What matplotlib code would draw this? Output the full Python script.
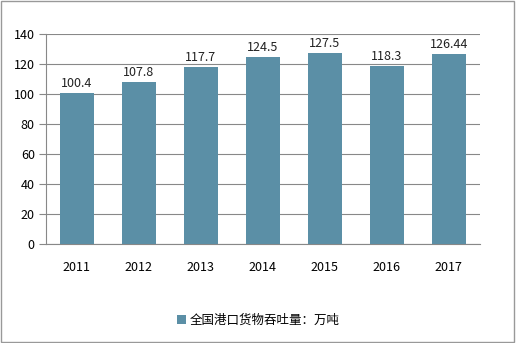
import matplotlib.pyplot as plt
from matplotlib.patches import Rectangle

plt.rcParams['font.family'] = ['Noto Sans CJK SC', 'DejaVu Sans']

years = ['2011', '2012', '2013', '2014', '2015', '2016', '2017']
values = [100.4, 107.8, 117.7, 124.5, 127.5, 118.3, 126.44]
labels = ['100.4', '107.8', '117.7', '124.5', '127.5', '118.3', '126.44']
series_name = '全国港口货物吞吐量：万吨'
bar_color = '#5b8fa6'

fig = plt.figure(figsize=(5.16, 3.43), dpi=100)
ax = fig.add_axes([0.089, 0.289, 0.841, 0.612])

x = range(len(years))
bars = ax.bar(x, values, width=0.54, color=bar_color, zorder=3, label=series_name)
for xi, v, lab in zip(x, values, labels):
    ax.text(xi, v + 2, lab, ha='center', va='bottom', fontsize=9, color='#222222')

ax.set_xlim(-0.5, len(years) - 0.5)
ax.set_ylim(0, 140)
ax.set_yticks(range(0, 141, 20))
ax.set_xticks(list(x))
ax.set_xticklabels(years)
ax.tick_params(axis='x', length=0, pad=12, labelsize=9)
ax.tick_params(axis='y', length=5, color='#888888', labelsize=9, pad=3)
ax.yaxis.grid(True, color='#888888', linewidth=0.8, zorder=0)

for side in ['top', 'right']:
    ax.spines[side].set_visible(False)
ax.spines['left'].set_color('#888888')
ax.spines['bottom'].set_color('#888888')

fig.legend(handles=[bars], labels=[series_name], loc='center', bbox_to_anchor=(0.5, 0.066),
           frameon=False, fontsize=9, handlelength=0.7, handleheight=0.7, handletextpad=0.3)

fig.patches.append(Rectangle((0.002, 0.003), 0.995, 0.993, transform=fig.transFigure,
                             fill=False, edgecolor='#999999', linewidth=1))

fig.savefig('out.png', dpi=100)
